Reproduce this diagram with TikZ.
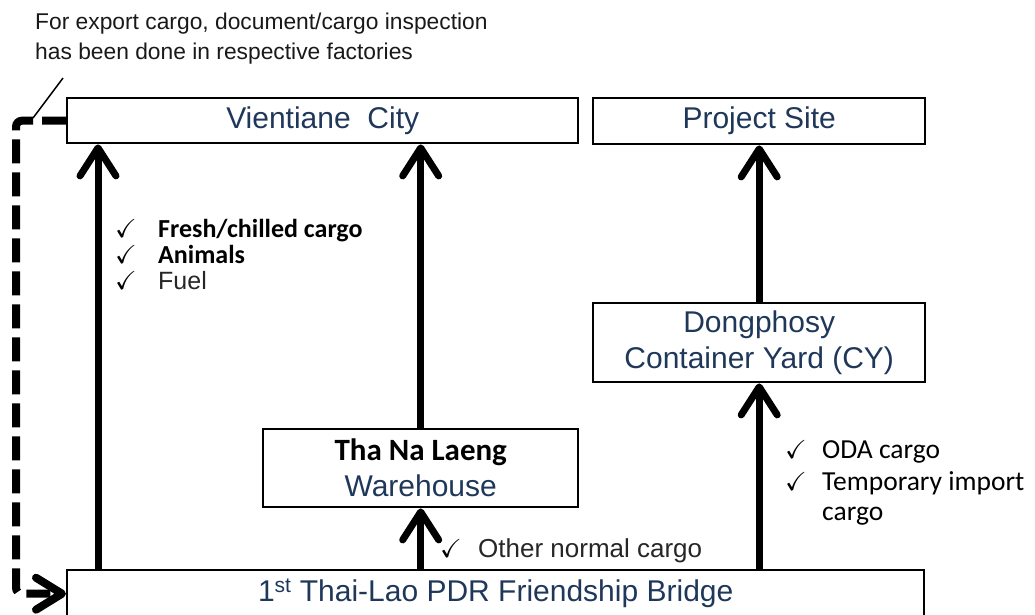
\documentclass[tikz,border=0pt]{standalone}
\usepackage{amssymb}
\usepackage{fontspec}
\setmainfont{Liberation Sans}
\newfontfamily\calibri{Carlito}
\usetikzlibrary{arrows.meta}
\definecolor{boxtext}{RGB}{31,56,90}
\newcommand{\tick}{{\fontsize{26}{26}\selectfont$\checkmark$}}

\begin{document}
\begin{tikzpicture}[x=1pt,y=-1pt,
  box/.style={draw, line width=2.4pt, inner sep=0pt, align=center,
    font=\fontsize{30}{36}\selectfont, text=boxtext},
  flow/.style={line width=7pt, -{Straight Barb[length=28pt,width=36pt,round]}},
  inspect/.style={line width=8pt, dash pattern=on 24pt off 9pt, rounded corners=6pt,
    -{Straight Barb[length=26pt,width=32pt,round]}},
  note/.style={anchor=base west, inner sep=0pt, font=\fontsize{22.8}{30}\selectfont, text=black!90},
  item/.style={anchor=base west, inner sep=0pt},
]
\useasboundingbox (0,0) rectangle (1035,614);

% destinations and transit points
\node[box, anchor=north west, minimum width=511pt, minimum height=45pt] (vc) at (66,97) {Vientiane\ \ City};
\node[box, anchor=north west, minimum width=332pt, minimum height=46pt] (ps) at (592,97) {Project Site};
\node[box, anchor=north west, minimum width=332pt, minimum height=79pt] (dcy) at (592,302)
  {Dongphosy\\Container Yard (CY)};
\node[box, anchor=north west, minimum width=315pt, minimum height=78pt] (tnl) at (262,428)
  {{\calibri\bfseries\fontsize{31}{36}\selectfont\color{black}Tha Na Laeng}\\Warehouse};
\node[box, anchor=north west, minimum width=857pt, minimum height=47pt] (bridge) at (66,569)
  {1\textsuperscript{st} Thai-Lao PDR Friendship Bridge};

% cargo flows
\coordinate (direct) at (98,569);
\draw[flow] (direct) -- (direct |- vc.south);
\draw[flow] (tnl.north) -- (tnl.north |- vc.south);
\draw[flow] (bridge.north -| tnl.south) -- (tnl.south);
\draw[flow] (bridge.north -| dcy.south) -- (dcy.south);
\draw[flow] (dcy.north) -- (ps.south);

% export inspection route
\coordinate (turnA) at (16,120);
\coordinate (turnB) at (16,592);
\draw[inspect] (vc.west) -- (vc.west -| turnA) -- (turnB |- bridge.west) -- (bridge.west);

% annotation
\node[note] (note1) at (35,29) {For export cargo, document/cargo inspection};
\node[note] (note2) at (35,59) {has been done in respective factories};
\coordinate (leadA) at (63,78);
\coordinate (leadB) at (33,118);
\draw[line width=1.5pt] (leadA) -- (leadB);

% cargo lists
\node[item] (f1) at (115,237) {\makebox[43pt][l]{\tick}{\calibri\bfseries\fontsize{26}{26}\selectfont Fresh/chilled cargo}};
\node[item] (f2) at (115,263) {\makebox[43pt][l]{\tick}{\calibri\bfseries\fontsize{26}{26}\selectfont Animals}};
\node[item] (f3) at (115,289) {\makebox[43pt][l]{\tick}{\fontsize{25}{25}\selectfont\color{black!85}Fuel}};
\node[item] (o1) at (440,557) {\makebox[38pt][l]{\tick}{\fontsize{26}{26}\selectfont\color{black!85}Other normal cargo}};
\node[item] (d1) at (785,458) {\makebox[37pt][l]{\tick}{\calibri\fontsize{27.5}{27.5}\selectfont ODA cargo}};
\node[item] (d2) at (785,490) {\makebox[37pt][l]{\tick}{\calibri\fontsize{27.5}{27.5}\selectfont Temporary import}};
\node[item] (d3) at (822,520) {\calibri\fontsize{27.5}{27.5}\selectfont cargo};
\end{tikzpicture}
\end{document}
